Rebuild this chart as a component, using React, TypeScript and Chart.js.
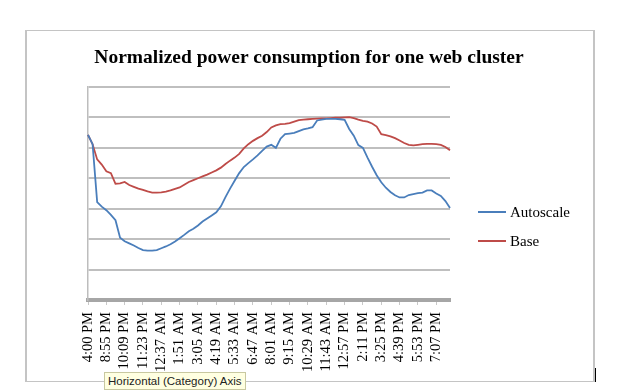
import React, { useEffect, useRef } from "react";
import { Chart, registerables } from "chart.js";

Chart.register(...registerables);

const tickLabels = [
  "4:00 PM", "8:55 PM", "10:09 PM", "11:23 PM", "12:37 AM", "1:51 AM", "3:05 AM",
  "4:19 AM", "5:33 AM", "6:47 AM", "8:01 AM", "9:15 AM", "10:29 AM", "11:43 AM",
  "12:57 PM", "2:11 PM", "3:25 PM", "4:39 PM", "5:53 PM", "7:07 PM",
];

const autoscale = [
  5.43, 5.12, 3.22, 3.07, 2.95, 2.8, 2.62, 2.05, 1.93, 1.86,
  1.79, 1.71, 1.64, 1.62, 1.62, 1.64, 1.7, 1.76, 1.83, 1.92,
  2.03, 2.14, 2.26, 2.34, 2.45, 2.58, 2.68, 2.78, 2.88, 3.08,
  3.38, 3.66, 3.92, 4.17, 4.37, 4.5, 4.62, 4.75, 4.9, 5.04,
  5.1, 5.0, 5.3, 5.45, 5.47, 5.49, 5.55, 5.61, 5.64, 5.68,
  5.9, 5.93, 5.95, 5.95, 5.95, 5.94, 5.92, 5.62, 5.4, 5.09,
  5.0, 4.68, 4.38, 4.1, 3.87, 3.69, 3.55, 3.44, 3.37, 3.37,
  3.45, 3.48, 3.51, 3.53, 3.6, 3.6, 3.5, 3.42, 3.25, 3.02,
];

const base = [
  5.43, 5.12, 4.62, 4.45, 4.23, 4.17, 3.82, 3.83, 3.88, 3.78,
  3.72, 3.66, 3.62, 3.57, 3.53, 3.53, 3.54, 3.56, 3.6, 3.65,
  3.7, 3.79, 3.88, 3.94, 4.0, 4.06, 4.12, 4.19, 4.26, 4.35,
  4.47, 4.58, 4.68, 4.8, 4.98, 5.12, 5.23, 5.32, 5.4, 5.52,
  5.67, 5.74, 5.78, 5.79, 5.81, 5.86, 5.91, 5.93, 5.94, 5.95,
  5.96, 5.97, 5.97, 5.98, 5.99, 5.99, 6.0, 6.01, 5.98, 5.93,
  5.89, 5.86, 5.8, 5.7, 5.45, 5.42, 5.38, 5.32, 5.24, 5.16,
  5.1, 5.08, 5.1, 5.12, 5.13, 5.13, 5.12, 5.1, 5.03, 4.92,
];

const seriesNames = ["Autoscale", "Base"];
const seriesColors = ["#4a7ebb", "#be4b48"];
const title = "Normalized power consumption for one web cluster";
const tickEvery = 4;

export default function App() {
  const ref = useRef<HTMLCanvasElement | null>(null);

  useEffect(() => {
    if (!ref.current) return;
    const labels = autoscale.map((_, i) => (i % tickEvery === 0 ? tickLabels[i / tickEvery] : ""));
    const chart = new Chart(ref.current, {
      type: "line",
      data: {
        labels,
        datasets: [
          { label: seriesNames[0], data: autoscale, borderColor: seriesColors[0], borderWidth: 1.8, pointRadius: 0, tension: 0, fill: false },
          { label: seriesNames[1], data: base, borderColor: seriesColors[1], borderWidth: 1.8, pointRadius: 0, tension: 0, fill: false },
        ],
      },
      options: {
        animation: false,
        responsive: false,
        maintainAspectRatio: false,
        layout: { padding: { left: 88, top: 87, right: 174, bottom: 5 } },
        plugins: { legend: { display: false }, title: { display: false }, tooltip: { enabled: false } },
        scales: {
          x: {
            type: "category",
            offset: false,
            afterFit: (s: any) => { s.height = 85; },
            grid: { display: true, drawOnChartArea: false, drawTicks: true, tickLength: 5, color: "#c8c8c8", lineWidth: 1 },
            border: { display: true, color: "#a6a6a6", width: 4 },
            ticks: {
              autoSkip: false,
              minRotation: 90,
              maxRotation: 90,
              padding: 7,
              color: "#000",
              font: { family: "'Liberation Serif', serif", size: 14.5 },
              callback: (_v: any, i: number) => (i % tickEvery === 0 ? tickLabels[i / tickEvery] : null),
            },
          },
          y: {
            min: 0,
            max: 7,
            afterFit: (s: any) => { s.width = 0; },
            ticks: { display: false, stepSize: 1 },
            grid: { color: "#bfbfbf", lineWidth: 2, drawTicks: false },
            border: { display: true, color: "#bdbdbd", width: 1.5 },
          },
        },
      },
    });
    return () => chart.destroy();
  }, []);

  const legendText: React.CSSProperties = {
    position: "absolute", left: 510, fontFamily: "'Liberation Serif', serif", fontSize: 15, color: "#000", lineHeight: "18px",
  };

  return (
    <div style={{ position: "fixed", left: 0, top: 0, width: 624, height: 390, background: "#fff", overflow: "hidden" }}>
      <div style={{ position: "absolute", left: 25, top: 30, width: 566, height: 350, borderLeft: "2px solid #c4c4c4", borderRight: "2px solid #c4c4c4", borderTop: "1px solid #c4c4c4", borderBottom: "1px solid #c4c4c4" }} />
      <canvas ref={ref} width={624} height={390} style={{ position: "absolute", left: 0, top: 0, width: 624, height: 390 }} />
      <div style={{ position: "absolute", left: 0, width: 618, top: 45, height: 24, lineHeight: "24px", textAlign: "center", fontFamily: "'Liberation Serif', serif", fontWeight: "bold", fontSize: 19.5, color: "#000" }}>
        {title}
      </div>
      <div style={{ position: "absolute", left: 478, top: 211, width: 28, height: 2, background: seriesColors[0] }} />
      <div style={{ ...legendText, top: 203 }}>{seriesNames[0]}</div>
      <div style={{ position: "absolute", left: 478, top: 240, width: 28, height: 2, background: seriesColors[1] }} />
      <div style={{ ...legendText, top: 232 }}>{seriesNames[1]}</div>
      <div style={{ position: "absolute", left: 104, top: 372, padding: "1px 3px", background: "#ffffe1", border: "1px solid #c8c8a0", fontFamily: "'Liberation Sans', Arial, sans-serif", fontSize: 11.5, lineHeight: "14px", color: "#222", whiteSpace: "nowrap" }}>
        Horizontal (Category) Axis
      </div>
      <div style={{ position: "absolute", left: 595, top: 368, width: 1, height: 14, background: "#000" }} />
    </div>
  );
}
